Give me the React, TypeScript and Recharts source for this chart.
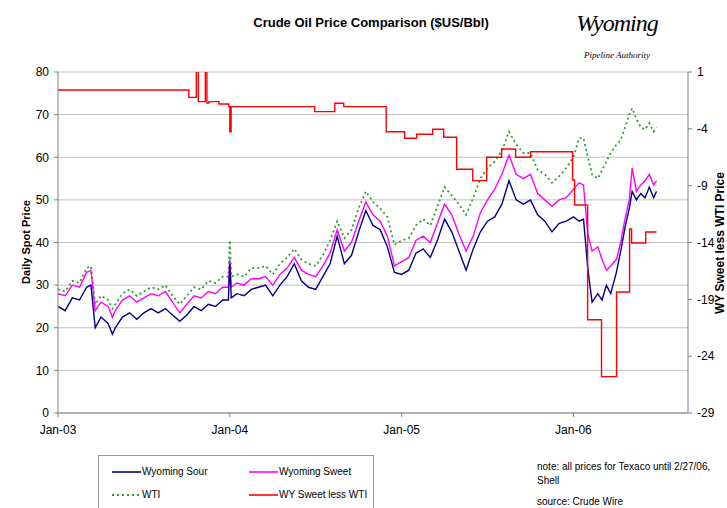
import { LineChart, Line, XAxis, YAxis, CartesianGrid } from 'recharts'

// months since Jan 2003
const months = [
  0, 0.5, 1, 1.5, 2, 2.3, 2.6, 3, 3.5, 3.8, 4, 4.5, 5, 5.5, 6, 6.5, 7, 7.5, 8, 8.5,
  9, 9.5, 10, 10.5, 11, 11.5, 11.9, 12, 12.1, 12.5, 13, 13.5, 14, 14.5, 15, 15.5,
  16, 16.5, 17, 17.5, 18, 18.5, 19, 19.5, 20, 20.5, 21, 21.5, 22, 22.5, 23, 23.5,
  24, 24.5, 25, 25.5, 26, 26.5, 27, 27.5, 28, 28.5, 29, 29.5, 30, 30.5, 31, 31.5,
  32, 32.5, 33, 33.5, 34, 34.5, 35, 35.5, 36, 36.4, 36.7, 37, 37.3, 37.7, 38, 38.3,
  38.6, 39, 39.3, 39.6, 39.9, 40.1, 40.4, 40.7, 41, 41.3, 41.6, 41.8,
]

const wyomingSour = [
  25, 24, 27, 26.5, 29.5, 30, 20, 22.5, 21, 18.5, 20, 22.5, 23.5, 22, 23.5, 24.5, 23.5, 24.5, 23, 21.5,
  23, 25, 24, 25.5, 25, 26.5, 26.5, 35, 27, 28, 27.5, 29, 29.5, 30, 27.5, 30,
  32, 35, 31, 29.5, 29, 32, 35, 41.5, 35, 37, 42.5, 47.5, 44, 43, 39, 33,
  32.5, 33.5, 37.5, 38.5, 36.5, 40.5, 45.5, 42.5, 38, 33.5, 38.5, 42.5, 45, 46, 49, 54.5,
  50, 49, 50, 46.5, 45, 42.5, 44.5, 45, 46, 45, 45.5, 34, 26, 28, 26.5, 30,
  28, 33, 38, 43.5, 48, 52, 50, 51.5, 50.5, 53, 50.5, 52,
]

const wyomingSweet = [
  28, 27.5, 30, 29.5, 33, 33.5, 24, 26, 25, 22.5, 24, 26.5, 27.5, 26, 27, 28, 27.5, 28.5, 26, 23.5,
  25.5, 27.5, 27, 28.5, 28, 29.5, 29.5, 36, 29.5, 30.5, 30, 31.5, 31.5, 32, 30, 32.5,
  34, 36.5, 33.5, 32.5, 32, 34.5, 37.5, 43, 38, 40, 45, 49.5, 46.5, 45, 41.5, 34.5,
  35.5, 36.5, 40.5, 41.5, 40, 44.5, 49, 46.5, 42, 38, 41.5, 47, 50, 52.5, 56, 60.5,
  56, 55, 56, 51.5, 50, 48.5, 50, 50.5, 52.5, 54, 53.5, 42, 38, 39, 36, 33.5,
  34.5, 36, 40, 45.5, 50, 57.5, 52, 53.5, 54.5, 56, 53.5, 54.5,
]

const wti = [
  29, 28.5, 31, 30.5, 34, 34.5, 25.5, 27.5, 26.5, 24.5, 25.5, 28, 29, 27.5, 28.5, 29.5, 29, 30, 27.5, 25.5,
  27.5, 29.5, 29, 31, 30.5, 32, 32, 40.5, 32, 32.5, 32, 34, 34, 34.5, 32.5, 35,
  36.5, 38.5, 36, 35, 34.5, 37, 40.5, 45, 41, 43, 48, 52, 49.5, 48, 46, 39.5,
  40.5, 41, 44, 45.5, 44, 48.5, 53, 51, 49, 46.5, 50.5, 55, 57.5, 59, 61.5, 66,
  63, 61, 61, 57, 56, 54, 55.5, 57.5, 60, 64.5, 64.5, 60, 56, 55, 57, 59,
  61, 63, 64, 67, 70, 71.5, 69, 67, 66.5, 68, 66, 67,
]

// WY Sweet less WTI, stepped
const spreadMonths = [
  0, 9.14, 9.66, 9.8, 10.29, 10.4, 10.54, 11.24, 11.93, 12.0, 12.09, 17.93, 19.33, 19.96,
  22.92, 24.21, 25.05, 26.17, 26.94, 27.84, 28.96, 29.94, 30.98, 31.96, 33.01, 35.94,
  36.08, 36.99, 37.96, 39.01, 39.92, 40.06, 41.05, 41.8,
]
const spreadValues = [
  -0.58, -1.23, 3, -1.61, 3, -1.73, -1.61, -1.81, -2.05, -4.25, -2.05, -2.49, -1.75, -2.05,
  -4.25, -4.83, -4.48, -4.04, -4.74, -7.56, -8.56, -6.5, -5.77, -6.5, -6.01, -8.5,
  -10.7, -20.8, -25.8, -18.35, -12.8, -14.04, -13.07, -13.07,
]

const yearTicks = [0, 12, 24, 36]
const yearLabels = ['Jan-03', 'Jan-04', 'Jan-05', 'Jan-06']
const priceTicks = [0, 10, 20, 30, 40, 50, 60, 70, 80]
const spreadTicks = [-29, -24, -19, -14, -9, -4, 1]

const priceData = months.map((t, i) => ({
  t,
  sour: wyomingSour[i],
  sweet: wyomingSweet[i],
  wti: wti[i],
}))
const spreadData = spreadMonths.map((t, i) => ({ t, spread: spreadValues[i] }))

const FONT = '"Liberation Sans", Arial, sans-serif'
const tickStyle = { fontSize: 12, fill: '#000', fontFamily: FONT }

function LegendRow({ color, dashed, label, x, y }: any) {
  return (
    <div style={{ position: 'absolute', left: x, top: y, display: 'flex', alignItems: 'center' }}>
      <svg width={29} height={6}>
        <line
          x1={0} y1={3} x2={29} y2={3}
          stroke={color}
          strokeWidth={dashed ? 1.8 : 1.6}
          strokeDasharray={dashed ? '2 3' : undefined}
        />
      </svg>
      <span style={{ fontSize: 10, marginLeft: 1 }}>{label}</span>
    </div>
  )
}

export default function App() {
  return (
    <div
      style={{
        position: 'absolute', left: 0, top: 0, width: 727, height: 508,
        background: '#fff', fontFamily: FONT, color: '#000', overflow: 'hidden',
      }}
    >
      <LineChart
        width={727}
        height={508}
        data={priceData}
        margin={{ top: 72, right: 9, bottom: 65, left: 18 }}
      >
        <CartesianGrid yAxisId="left" vertical={false} stroke="#c0c0c0" />
        <XAxis
          dataKey="t"
          type="number"
          domain={[0, 44]}
          ticks={yearTicks}
          tickFormatter={(v) => yearLabels[yearTicks.indexOf(v)]}
          tick={tickStyle}
          tickSize={4}
          tickMargin={8}
          stroke="#808080"
          allowDataOverflow
        />
        <YAxis
          yAxisId="left"
          domain={[0, 80]}
          ticks={priceTicks}
          tick={tickStyle}
          width={40}
          tickSize={4}
          tickMargin={5}
          stroke="#808080"
          interval={0}
        />
        <YAxis
          yAxisId="right"
          orientation="right"
          domain={[-29, 1]}
          ticks={spreadTicks}
          tick={tickStyle}
          width={30}
          tickSize={4}
          tickMargin={5}
          stroke="#808080"
          interval={0}
          allowDataOverflow
        />
        <Line
          yAxisId="left"
          dataKey="wti"
          name="WTI"
          stroke="#339933"
          strokeWidth={1.8}
          strokeDasharray="2 3"
          dot={false}
          isAnimationActive={false}
        />
        <Line
          yAxisId="left"
          dataKey="sweet"
          name="Wyoming Sweet"
          stroke="#ff00ff"
          strokeWidth={1.4}
          dot={false}
          isAnimationActive={false}
        />
        <Line
          yAxisId="left"
          dataKey="sour"
          name="Wyoming Sour"
          stroke="#000080"
          strokeWidth={1.4}
          dot={false}
          isAnimationActive={false}
        />
        <Line
          yAxisId="right"
          data={spreadData}
          dataKey="spread"
          name="WY Sweet less WTI"
          type="stepAfter"
          stroke="#ff0000"
          strokeWidth={1.4}
          dot={false}
          isAnimationActive={false}
        />
      </LineChart>

      <div style={{ position: 'absolute', left: 0, width: 742, top: 15, textAlign: 'center', fontSize: 13, fontWeight: 'bold' }}>
        Crude Oil Price Comparison ($US/Bbl)
      </div>

      <div style={{ position: 'absolute', left: 572, top: 8, width: 90, textAlign: 'center', fontFamily: '"Liberation Serif", serif', fontStyle: 'italic' }}>
        <div style={{ fontSize: 24, lineHeight: '30px', letterSpacing: -1 }}>Wyoming</div>
        <div style={{ fontSize: 9, marginTop: 12 }}>Pipeline Authority</div>
      </div>

      <div style={{ position: 'absolute', left: 26, top: 242, transform: 'translate(-50%, -50%) rotate(-90deg)', whiteSpace: 'nowrap', fontSize: 11, fontWeight: 'bold' }}>
        Daily Spot Price
      </div>
      <div style={{ position: 'absolute', left: 720, top: 243, transform: 'translate(-50%, -50%) rotate(-90deg)', whiteSpace: 'nowrap', fontSize: 12, lineHeight: '12px', fontWeight: 'bold' }}>
        WY Sweet less WTI Price
      </div>

      <div style={{ position: 'absolute', left: 98, top: 455, width: 274, height: 60, border: '1px solid #999' }} />
      <LegendRow color="#000080" label="Wyoming Sour" x={112} y={466} />
      <LegendRow color="#ff00ff" label="Wyoming Sweet" x={249} y={466} />
      <LegendRow color="#339933" dashed label="WTI" x={112} y={489} />
      <LegendRow color="#ff0000" label="WY Sweet less WTI" x={249} y={489} />

      <div style={{ position: 'absolute', left: 537, top: 460, fontSize: 10, whiteSpace: 'nowrap', lineHeight: '14px' }}>
        note: all prices for Texaco until 2/27/06,
        <br />
        Shell
      </div>
      <div style={{ position: 'absolute', left: 537, top: 496, fontSize: 10, whiteSpace: 'nowrap' }}>
        source: Crude Wire
      </div>
    </div>
  )
}
